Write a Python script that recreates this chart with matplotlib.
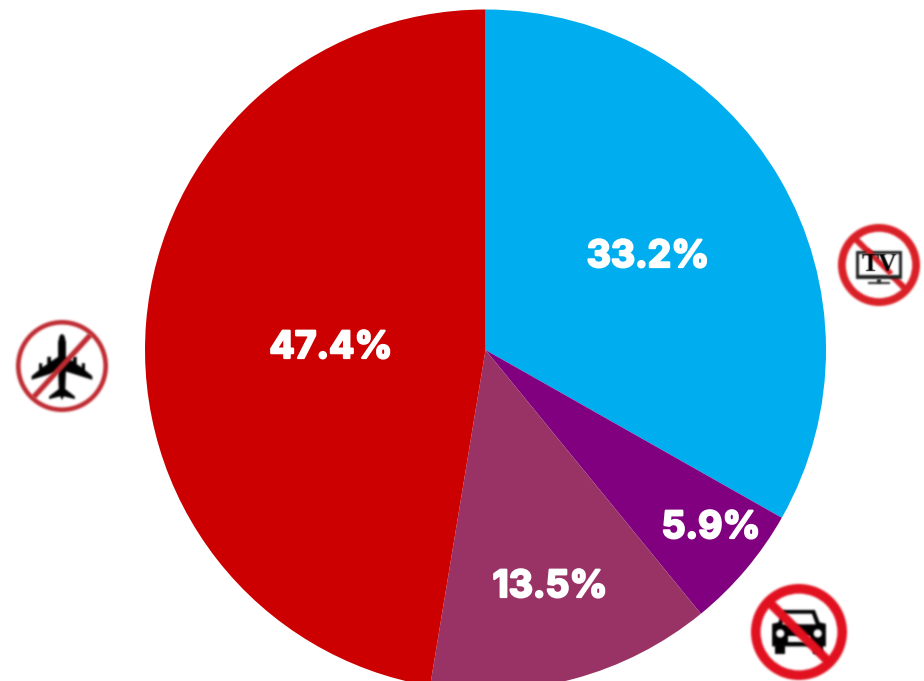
import numpy as np
import matplotlib
matplotlib.use("Agg")
import matplotlib.pyplot as plt
import matplotlib.patheffects as pe
from matplotlib.colors import to_rgb
from matplotlib.patches import Circle, Polygon, Rectangle, Wedge

# Anteile und Farben
shares = [33.2, 5.9, 13.5, 47.4]
slice_colors = ["#00AEEF", "#800080", "#993366", "#CC0000"]

WIDTH, HEIGHT = 924, 681
PIE_CENTER = (485.5, HEIGHT - 350)
PIE_RADIUS = 340.5
LABEL_POS = [(648, 257), (711, 528), (550, 587), (331, 348)]


# Weichzeichner: Alpha verwischen, Farbe bleibt
def soft(color, sigma=1.0):
    rgb = to_rgb(color)
    pad = int(3 * sigma) + 1
    xs = np.arange(-pad, pad + 1)
    kernel = np.exp(-xs**2 / (2 * sigma**2))
    kernel /= kernel.sum()

    def apply(image, dpi):
        alpha = np.pad(image[:, :, 3], pad)
        alpha = np.apply_along_axis(lambda r: np.convolve(r, kernel, mode="same"), 0, alpha)
        alpha = np.apply_along_axis(lambda r: np.convolve(r, kernel, mode="same"), 1, alpha)
        out = np.zeros(alpha.shape + (4,))
        out[:, :, :3] = rgb
        out[:, :, 3] = alpha
        return out, -pad, -pad

    return apply


# Gibt Zeichenfunktionen in Einheitskoordinaten des Icons zurück
def icon_tools(ax, cx, cy, r):
    cy = HEIGHT - cy

    def to_px(points):
        return [(cx + x * r, cy + y * r) for x, y in points]

    def add(patch, color):
        patch.set_agg_filter(soft(color))
        patch.set_zorder(5)
        ax.add_patch(patch)

    def poly(points, color):
        add(Polygon(to_px(points), closed=True, facecolor=color, edgecolor="none"), color)

    def circle(x, y, radius, color):
        px = to_px([(x, y)])[0]
        add(Circle(px, radius * r, facecolor=color, edgecolor="none"), color)

    def box(x0, y0, x1, y1, color):
        px = to_px([(x0, y0)])[0]
        add(Rectangle(px, (x1 - x0) * r, (y1 - y0) * r, facecolor=color, edgecolor="none"), color)

    def ring(width, color):
        add(Wedge((cx, cy), r, 0, 360, width=width * r, facecolor=color, edgecolor="none"), color)

    return poly, circle, box, ring


def bar_points(x0, y0, x1, y1, w):
    dx, dy = x1 - x0, y1 - y0
    n = np.hypot(dx, dy)
    nx, ny = -dy / n * w / 2, dx / n * w / 2
    return [(x0 + nx, y0 + ny), (x1 + nx, y1 + ny), (x1 - nx, y1 - ny), (x0 - nx, y0 - ny)]


# Flugzeug durchgestrichen
def draw_plane(ax, cx, cy, r):
    poly, circle, box, ring = icon_tools(ax, cx, cy, r)
    red = "#BE2A30"
    circle(0, 0, 1.0, "#FFFFFF")
    right = [(0, 0.70), (0.05, 0.66), (0.085, 0.52), (0.085, 0.20), (0.24, 0.10), (0.24, 0.20),
             (0.32, 0.20), (0.32, 0.04), (0.43, -0.03), (0.43, 0.06), (0.50, 0.06), (0.50, -0.09),
             (0.66, -0.22), (0.66, -0.30), (0.085, -0.12), (0.07, -0.50), (0.28, -0.66),
             (0.28, -0.72), (0.04, -0.66), (0, -0.74)]
    left = [(-x, y) for x, y in reversed(right[1:-1])]
    poly(right + left, "#000000")
    poly(bar_points(-0.62, -0.68, 0.62, 0.68, 0.115), red)
    ring(0.10, red)


# Auto durchgestrichen
def draw_car(ax, cx, cy, r):
    poly, circle, box, ring = icon_tools(ax, cx, cy, r)
    red = "#E2101F"
    circle(0, 0, 1.0, "#FFFFFF")
    poly([(-0.33, 0.46), (0.33, 0.46), (0.43, 0.20), (0.56, 0.17), (0.56, -0.30), (-0.56, -0.30),
          (-0.56, 0.17), (-0.43, 0.20)], "#000000")
    box(-0.50, -0.46, -0.29, -0.25, "#000000")
    box(0.29, -0.46, 0.50, -0.25, "#000000")
    circle(-0.39, -0.03, 0.085, "#FFFFFF")
    circle(0.39, -0.03, 0.085, "#FFFFFF")
    poly([(-0.27, 0.38), (0.27, 0.38), (0.35, 0.16), (-0.35, 0.16)], "#FFFFFF")
    box(-0.22, -0.20, 0.22, -0.08, "#FFFFFF")
    poly(bar_points(-0.66, 0.66, 0.66, -0.66, 0.19), red)
    ring(0.20, red)


# Fernseher durchgestrichen
def draw_tv(ax, cx, cy, r):
    poly, circle, box, ring = icon_tools(ax, cx, cy, r)
    red = "#DA1F26"
    circle(0, 0, 1.0, "#FFFFFF")
    poly(bar_points(-0.60, 0.66, 0.66, -0.60, 0.15), red)
    box(-0.57, -0.33, 0.57, 0.34, "#222222")
    box(-0.49, -0.25, 0.49, 0.26, "#FFFFFF")
    poly(bar_points(-0.30, 0.37, 0.30, -0.22, 0.13), red)
    box(-0.05, -0.43, 0.05, -0.33, "#222222")
    box(-0.26, -0.47, 0.26, -0.42, "#222222")
    ax.text(cx, HEIGHT - cy + 0.01 * r, "TV", family="Liberation Serif", weight="bold",
            fontsize=18.5, color="#000000", ha="center", va="center", zorder=6,
            agg_filter=soft("#000000", 0.6))
    ring(0.19, red)


fig = plt.figure(figsize=(WIDTH / 100, HEIGHT / 100), dpi=100)
ax = fig.add_axes([0, 0, 1, 1])

ax.pie(shares, colors=slice_colors, startangle=90, counterclock=False,
       center=PIE_CENTER, radius=PIE_RADIUS, wedgeprops={"linewidth": 0})

# Prozentwerte, etwas fetter als Inter Bold
for value, (x, y) in zip(shares, LABEL_POS):
    ax.text(x, HEIGHT - y, f"{value}%", family="Inter", weight="bold", fontsize=27,
            color="white", ha="center", va="center", zorder=4,
            path_effects=[pe.withStroke(linewidth=1.6, foreground="white")])

draw_tv(ax, 879, 265, 41)
draw_plane(ax, 62, 366, 46)
draw_car(ax, 799, 632, 48)

ax.set_xlim(0, WIDTH)
ax.set_ylim(0, HEIGHT)
ax.set_aspect("equal")
ax.axis("off")

fig.savefig("out.png", dpi=100, facecolor="white")
